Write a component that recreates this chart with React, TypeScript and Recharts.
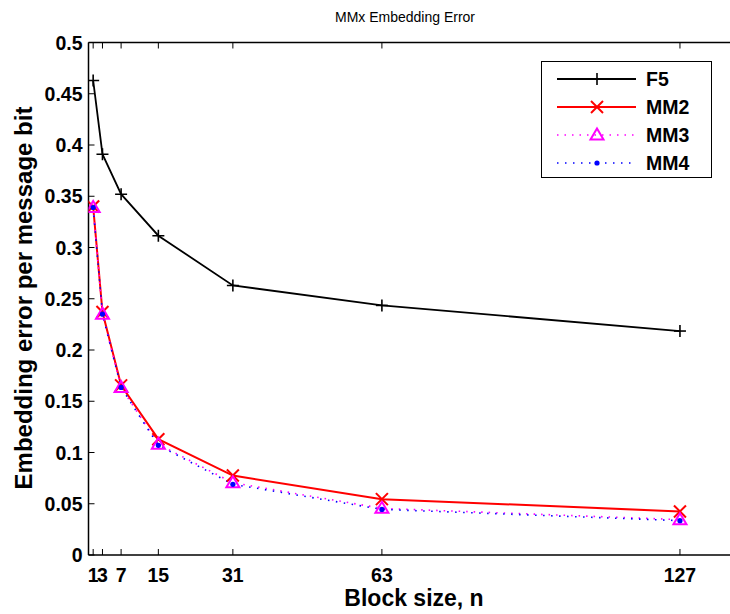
import React from "react";
import { LineChart, Line, XAxis, YAxis } from "recharts";

// block sizes n (x) and embedding error per message bit for each method
const blockSizes = [1, 3, 7, 15, 31, 63, 127];
const f5Err = [0.463, 0.391, 0.352, 0.3115, 0.263, 0.2435, 0.2185];
const mm2Err = [0.340, 0.237, 0.1655, 0.113, 0.0775, 0.0545, 0.0425];
const mm3Err = [0.339, 0.235, 0.1635, 0.108, 0.0705, 0.0455, 0.0345];
const mm4Err = [0.339, 0.235, 0.1635, 0.107, 0.069, 0.0445, 0.0335];
const yTicks = [0, 0.05, 0.1, 0.15, 0.2, 0.25, 0.3, 0.35, 0.4, 0.45, 0.5];

const rows = blockSizes.map((n, i) => ({
  n,
  F5: f5Err[i],
  MM2: mm2Err[i],
  MM3: mm3Err[i],
  MM4: mm4Err[i],
}));

type MarkerKind = "plus" | "cross" | "triangle" | "dot";

interface SeriesDef {
  key: string;
  label: string;
  color: string;
  width: number;
  dash?: string;
  marker: MarkerKind;
}

const series: SeriesDef[] = [
  { key: "F5", label: "F5", color: "#000000", width: 1.8, marker: "plus" },
  { key: "MM2", label: "MM2", color: "#ff0000", width: 2, marker: "cross" },
  { key: "MM3", label: "MM3", color: "#ff00ff", width: 1.6, dash: "1.5 6", marker: "triangle" },
  { key: "MM4", label: "MM4", color: "#0000ff", width: 1.6, dash: "1.5 6.5", marker: "dot" },
];

const FONT = "'Liberation Sans', Arial, Helvetica, sans-serif";

function Marker({ kind, cx, cy, color }: { kind: MarkerKind; cx: number; cy: number; color: string }) {
  if (kind === "plus") {
    return (
      <g stroke={color} strokeWidth={1.6}>
        <line x1={cx - 6} y1={cy} x2={cx + 6} y2={cy} />
        <line x1={cx} y1={cy - 6} x2={cx} y2={cy + 6} />
      </g>
    );
  }
  if (kind === "cross") {
    return (
      <g stroke={color} strokeWidth={2}>
        <line x1={cx - 6} y1={cy - 6} x2={cx + 6} y2={cy + 6} />
        <line x1={cx - 6} y1={cy + 6} x2={cx + 6} y2={cy - 6} />
      </g>
    );
  }
  if (kind === "triangle") {
    return (
      <polygon
        points={`${cx},${cy - 6.5} ${cx + 6.5},${cy + 4.5} ${cx - 6.5},${cy + 4.5}`}
        fill="none"
        stroke={color}
        strokeWidth={2}
      />
    );
  }
  return <circle cx={cx} cy={cy} r={2.6} fill={color} />;
}

// MATLAB-style inward ticks
const BottomTick = (p: any) => (
  <g>
    <line x1={p.x} y1={p.y} x2={p.x} y2={p.y - 6} stroke="#000" strokeWidth={1} />
    <text x={p.x} y={p.y + 27} textAnchor="middle" fontFamily={FONT} fontWeight="bold" fontSize={19.5} fill="#000">
      {p.payload.value}
    </text>
  </g>
);

const TopTick = (p: any) => (
  <line x1={p.x} y1={p.y} x2={p.x} y2={p.y + 6} stroke="#000" strokeWidth={1} />
);

const LeftTick = (p: any) => (
  <g>
    <line x1={p.x} y1={p.y} x2={p.x + 6} y2={p.y} stroke="#000" strokeWidth={1} />
    <text x={p.x - 6} y={p.y + 7} textAnchor="end" fontFamily={FONT} fontWeight="bold" fontSize={19.5} fill="#000">
      {p.payload.value}
    </text>
  </g>
);

const RightTick = (p: any) => (
  <line x1={p.x} y1={p.y} x2={p.x - 6} y2={p.y} stroke="#000" strokeWidth={1} />
);

function LegendBox() {
  const rowH = 28;
  return (
    <div
      style={{
        position: "absolute",
        left: 541,
        top: 61,
        width: 171,
        height: 117,
        border: "1.5px solid #000",
        background: "#fff",
        boxSizing: "border-box",
      }}
    >
      <svg width={171} height={117}>
        {series.map((s, i) => {
          const cy = 17 + i * rowH;
          return (
            <g key={s.key}>
              <line x1={15} y1={cy} x2={94} y2={cy} stroke={s.color} strokeWidth={s.width} strokeDasharray={s.dash} />
              <Marker kind={s.marker} cx={55} cy={cy} color={s.color} />
              <text x={104} y={cy + 7} fontFamily={FONT} fontWeight="bold" fontSize={19.5} fill="#000">
                {s.label}
              </text>
            </g>
          );
        })}
      </svg>
    </div>
  );
}

export default function App() {
  return (
    <div
      style={{
        position: "absolute",
        left: 0,
        top: 0,
        width: 730,
        height: 614,
        overflow: "hidden",
        background: "#fff",
        fontFamily: FONT,
      }}
    >
      <LineChart
        width={760}
        height={614}
        data={rows}
        margin={{ top: 32.5, right: 9.5, left: 48.5, bottom: 29 }}
      >
        <XAxis
          xAxisId="b"
          type="number"
          dataKey="n"
          domain={[0, 140]}
          ticks={blockSizes}
          interval={0}
          orientation="bottom"
          height={30}
          tickSize={0}
          tickMargin={0}
          tick={BottomTick}
          stroke="#000"
          strokeWidth={1.5}
          allowDataOverflow
        />
        <XAxis
          xAxisId="t"
          type="number"
          dataKey="n"
          domain={[0, 140]}
          ticks={blockSizes}
          interval={0}
          orientation="top"
          height={10}
          tickSize={0}
          tickMargin={0}
          tick={TopTick}
          stroke="#000"
          strokeWidth={1.5}
          allowDataOverflow
        />
        <YAxis
          yAxisId="l"
          type="number"
          domain={[0, 0.5]}
          ticks={yTicks}
          interval={0}
          width={40}
          tickSize={0}
          tickMargin={0}
          tick={LeftTick}
          stroke="#000"
          strokeWidth={1.5}
          allowDataOverflow
        />
        <YAxis
          yAxisId="r"
          orientation="right"
          type="number"
          domain={[0, 0.5]}
          ticks={yTicks}
          interval={0}
          width={10}
          tickSize={0}
          tickMargin={0}
          tick={RightTick}
          stroke="#000"
          strokeWidth={1.5}
        />
        {series.map((s) => (
          <Line
            key={s.key}
            xAxisId="b"
            yAxisId="l"
            type="linear"
            dataKey={s.key}
            stroke={s.color}
            strokeWidth={s.width}
            strokeDasharray={s.dash}
            isAnimationActive={false}
            dot={(p: any) => (
              <Marker key={`${s.key}-${p.index}`} kind={s.marker} cx={p.cx} cy={p.cy} color={s.color} />
            )}
            activeDot={false}
          />
        ))}
      </LineChart>

      <div
        style={{
          position: "absolute",
          left: 0,
          width: 810,
          top: 9,
          textAlign: "center",
          fontSize: 14,
          color: "#000",
        }}
      >
        MMx Embedding Error
      </div>
      <div
        style={{
          position: "absolute",
          left: 88,
          width: 652,
          top: 585,
          textAlign: "center",
          fontSize: 23,
          fontWeight: "bold",
          color: "#000",
        }}
      >
        Block size, n
      </div>
      <div
        style={{
          position: "absolute",
          left: 24,
          top: 298,
          width: 420,
          marginLeft: -210,
          textAlign: "center",
          fontSize: 24,
          fontWeight: "bold",
          lineHeight: "26px",
          marginTop: -13,
          color: "#000",
          transform: "rotate(-90deg)",
          whiteSpace: "nowrap",
        }}
      >
        Embedding error per message bit
      </div>
      <LegendBox />
    </div>
  );
}
